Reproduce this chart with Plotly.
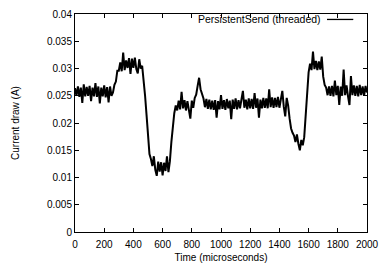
import plotly.graph_objects as go

# time in microseconds, sampled every 10 us
time_us = list(range(0, 2001, 10))

current_a = [
    # 0-90
    0.0264, 0.0250, 0.0267, 0.0248, 0.0265, 0.0237, 0.0271, 0.0249, 0.0266, 0.0250,
    # 100-190
    0.0268, 0.0240, 0.0265, 0.0249, 0.0273, 0.0248, 0.0267, 0.0236, 0.0265, 0.0249,
    # 200-290
    0.0269, 0.0247, 0.0266, 0.0238, 0.0267, 0.0250, 0.0256, 0.0270, 0.0276, 0.0296,
    # 300-390
    0.0296, 0.0311, 0.0295, 0.0329, 0.0297, 0.0315, 0.0301, 0.0319, 0.0290, 0.0318,
    # 400-490
    0.0301, 0.0320, 0.0299, 0.0291, 0.0317, 0.0300, 0.0305, 0.0280, 0.0250, 0.0215,
    # 500-590
    0.0168, 0.0143, 0.0134, 0.0121, 0.0139, 0.0114, 0.0103, 0.0129, 0.0111, 0.0128,
    # 600-690
    0.0104, 0.0127, 0.0112, 0.0139, 0.0110, 0.0130, 0.0165, 0.0195, 0.0218, 0.0232,
    # 700-790
    0.0223, 0.0241, 0.0225, 0.0257, 0.0227, 0.0242, 0.0223, 0.0240, 0.0224, 0.0208,
    # 800-890
    0.0241, 0.0228, 0.0246, 0.0252, 0.0268, 0.0283, 0.0262, 0.0252, 0.0245, 0.0229,
    # 900-990
    0.0244, 0.0226, 0.0243, 0.0225, 0.0241, 0.0224, 0.0242, 0.0210, 0.0240, 0.0225,
    # 1000-1090
    0.0251, 0.0226, 0.0242, 0.0224, 0.0244, 0.0227, 0.0241, 0.0207, 0.0243, 0.0226,
    # 1100-1190
    0.0245, 0.0225, 0.0242, 0.0227, 0.0244, 0.0259, 0.0228, 0.0243, 0.0225, 0.0245,
    # 1200-1290
    0.0227, 0.0244, 0.0226, 0.0255, 0.0228, 0.0245, 0.0210, 0.0243, 0.0227, 0.0246,
    # 1300-1390
    0.0228, 0.0245, 0.0227, 0.0262, 0.0229, 0.0247, 0.0228, 0.0246, 0.0229, 0.0248,
    # 1400-1490
    0.0228, 0.0247, 0.0259, 0.0230, 0.0212, 0.0246, 0.0232, 0.0208, 0.0190, 0.0182,
    # 1500-1590
    0.0177, 0.0165, 0.0179, 0.0162, 0.0150, 0.0169, 0.0159, 0.0174, 0.0215, 0.0265,
    # 1600-1690
    0.0293, 0.0309, 0.0297, 0.0331, 0.0299, 0.0314, 0.0297, 0.0313, 0.0298, 0.0322,
    # 1700-1790
    0.0285, 0.0270, 0.0265, 0.0251, 0.0267, 0.0250, 0.0268, 0.0249, 0.0278, 0.0251,
    # 1800-1890
    0.0268, 0.0233, 0.0267, 0.0250, 0.0298, 0.0251, 0.0269, 0.0249, 0.0233, 0.0286,
    # 1900-2000
    0.0251, 0.0269, 0.0250, 0.0268, 0.0249, 0.0270, 0.0251, 0.0267, 0.0250, 0.0268,
    0.0256,
]

x_tick_vals = [0, 200, 400, 600, 800, 1000, 1200, 1400, 1600, 1800, 2000]
x_tick_text = ["0", "200", "400", "600", "800", "1000", "1200", "1400", "1600", "1800", "2000"]
y_tick_vals = [0, 0.005, 0.01, 0.015, 0.02, 0.025, 0.03, 0.035, 0.04]
y_tick_text = ["0", "0.005", "0.01", "0.015", "0.02", "0.025", "0.03", "0.035", "0.04"]

series_name = "PersistentSend (threaded)"

FONT = "Liberation Sans, Arial, Helvetica, sans-serif"

fig = go.Figure()
fig.add_trace(go.Scatter(
    x=time_us, y=current_a, mode="lines", name=series_name,
    line=dict(color="black", width=2), showlegend=False,
))

axis_common = dict(
    showgrid=False, zeroline=False, showline=True, linecolor="black", linewidth=1,
    mirror="ticks", ticks="inside", ticklen=4, tickcolor="black", tickwidth=1,
    tickfont=dict(family=FONT, size=10, color="black"),
)

fig.update_xaxes(
    range=[0, 2000], tickvals=x_tick_vals, ticktext=x_tick_text, ticklabelstandoff=3,
    title=dict(text="Time (microseconds)", font=dict(family=FONT, size=10, color="black"), standoff=4),
    **axis_common,
)
fig.update_yaxes(
    range=[0, 0.04], tickvals=y_tick_vals, ticktext=y_tick_text,
    title=dict(text="Current draw (A)", font=dict(family=FONT, size=10, color="black"), standoff=25),
    **axis_common,
)

# gnuplot-style key: text on the left, line sample on the right
fig.add_annotation(
    xref="paper", yref="paper", x=0.848, y=0.975, xanchor="right", yanchor="middle",
    text=series_name, showarrow=False, font=dict(family=FONT, size=10.5, color="black"),
)
fig.add_shape(
    type="line", xref="paper", yref="paper", x0=0.863, x1=0.953, y0=0.975, y1=0.975,
    line=dict(color="black", width=1.3),
)

fig.update_layout(
    width=387, height=269,
    margin=dict(l=75, r=13, t=8, b=37),
    paper_bgcolor="white", plot_bgcolor="white",
    font=dict(family=FONT, size=10, color="black"),
)

# remove the browser's default page margin so the figure sits at the window origin
fig.write_html(
    "out.html",
    config={"displayModeBar": False},
    post_script="document.body.style.margin='0';document.body.style.overflow='hidden';",
)
